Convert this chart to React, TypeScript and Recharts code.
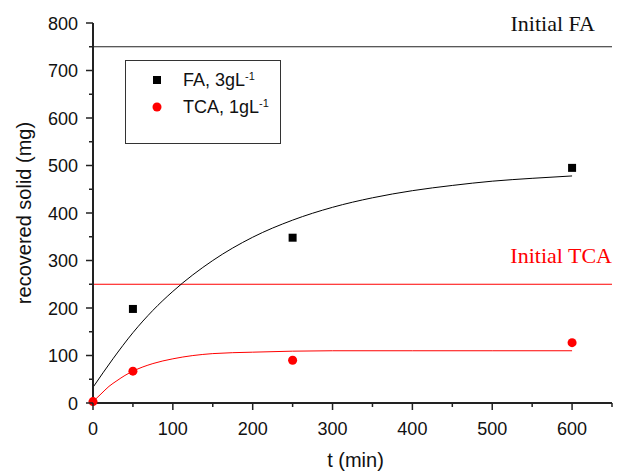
import React from "react";
import { ComposedChart, Scatter, Line, XAxis, YAxis, ReferenceLine, Legend } from "recharts";

// measured points
const faTime = [50, 250, 600];
const faSolid = [198, 348, 495];
const tcaTime = [0, 50, 250, 600];
const tcaSolid = [3, 67, 90, 127];

// fitted curves
const faFitTime = [0, 25, 50, 75, 100, 150, 200, 250, 300, 350, 400, 450, 500, 550, 600];
const faFitSolid = [33, 93, 148, 195, 235, 300, 349, 385, 412, 432, 447, 458, 467, 473, 478];
const tcaFitTime = [0, 10, 20, 30, 40, 50, 75, 100, 150, 200, 300, 400, 500, 600];
const tcaFitSolid = [3, 19, 35, 47, 58, 67, 83, 93, 104, 107, 110, 110, 110, 110];

const initialFA = 750;
const initialTCA = 250;

const xTicks = [0, 50, 100, 150, 200, 250, 300, 350, 400, 450, 500, 550, 600, 650];
const yTicks = [0, 50, 100, 150, 200, 250, 300, 350, 400, 450, 500, 550, 600, 650, 700, 750, 800];

const RED = "#ff0000";
const SANS = "'Liberation Sans', Arial, sans-serif";
const SERIF = "'Liberation Serif', 'Times New Roman', serif";

const zip = (xs: number[], ys: number[]) => xs.map((t, i) => ({ t, solid: ys[i] }));

const faData = zip(faTime, faSolid);
const tcaData = zip(tcaTime, tcaSolid);
const faFit = zip(faFitTime, faFitSolid);
const tcaFit = zip(tcaFitTime, tcaFitSolid);

function XTick({ x, y, payload }: any) {
  const major = payload.value % 100 === 0;
  return (
    <g>
      <line x1={x} x2={x} y1={y} y2={y + (major ? 7 : 4)} stroke="#222" strokeWidth={1.5} />
      {major && (
        <text x={x} y={y + 32} textAnchor="middle" fontSize={18} fontFamily={SANS} fill="#111">
          {payload.value}
        </text>
      )}
    </g>
  );
}

function YTick({ x, y, payload }: any) {
  const major = payload.value % 100 === 0;
  return (
    <g>
      <line x1={x} x2={x - (major ? 7 : 4)} y1={y} y2={y} stroke="#222" strokeWidth={1.5} />
      {major && (
        <text x={x - 15} y={y + 6.5} textAnchor="end" fontSize={18} fontFamily={SANS} fill="#111">
          {payload.value}
        </text>
      )}
    </g>
  );
}

const refLabel = (text: string, color: string, dx: number, dy: number) => ({ viewBox }: any) => (
  <text
    x={viewBox.x + viewBox.width + dx}
    y={viewBox.y + dy}
    textAnchor="end"
    fontSize={22}
    fontFamily={SERIF}
    fill={color}
  >
    {text}
  </text>
);

function LegendBox() {
  const row = (top: number, marker: React.ReactNode, label: string, sup: string) => (
    <div style={{ position: "absolute", left: 0, top, height: 20, width: "100%" }}>
      <svg width={40} height={20} style={{ position: "absolute", left: 21, top: 0 }}>
        {marker}
      </svg>
      <span
        style={{
          position: "absolute",
          left: 57,
          top: 0,
          lineHeight: "20px",
          fontSize: 18,
          fontFamily: SANS,
          color: "#111",
          whiteSpace: "nowrap",
        }}
      >
        {label}
        <sup style={{ fontSize: 11, verticalAlign: "top", lineHeight: "12px" }}>{sup}</sup>
      </span>
    </div>
  );
  return (
    <div
      style={{
        position: "relative",
        width: 156,
        height: 84,
        border: "1px solid #333",
        boxSizing: "border-box",
        background: "#fff",
      }}
    >
      {row(9, <rect x={6} y={6} width={8} height={8} fill="#000" />, "FA, 3gL", "-1")}
      {row(36, <circle cx={10} cy={10} r={4.5} fill={RED} />, "TCA, 1gL", "-1")}
    </div>
  );
}

export default function App() {
  return (
    <div style={{ position: "absolute", left: 0, top: 0, background: "#fff" }}>
      <ComposedChart width={624} height={471} margin={{ top: 23, right: 12, bottom: 8, left: 0 }}>
        <XAxis
          type="number"
          dataKey="t"
          domain={[0, 650]}
          ticks={xTicks}
          interval={0}
          tickSize={0}
          tickMargin={0}
          tickLine={false}
          tick={<XTick />}
          height={60}
          axisLine={{ stroke: "#222", strokeWidth: 2 }}
          allowDuplicatedCategory={false}
          label={({ viewBox }: any) => (
            <text
              x={viewBox.x + viewBox.width / 2 + 3}
              y={467}
              textAnchor="middle"
              fontSize={20}
              fontFamily={SANS}
              fill="#111"
            >
              t (min)
            </text>
          )}
        />
        <YAxis
          type="number"
          domain={[0, 800]}
          ticks={yTicks}
          interval={0}
          width={93}
          tickSize={0}
          tickMargin={0}
          tickLine={false}
          tick={<YTick />}
          axisLine={{ stroke: "#222", strokeWidth: 2 }}
          label={({ viewBox }: any) => {
            const cy = viewBox.y + viewBox.height / 2;
            return (
              <text
                x={31}
                y={cy}
                transform={`rotate(-90, 31, ${cy})`}
                textAnchor="middle"
                fontSize={20}
                fontFamily={SANS}
                fill="#111"
              >
                recovered solid (mg)
              </text>
            );
          }}
        />
        <ReferenceLine y={initialFA} stroke="#222" strokeWidth={1} label={refLabel("Initial FA", "#111", -17, -16)} />
        <ReferenceLine y={initialTCA} stroke={RED} strokeWidth={1} label={refLabel("Initial TCA", RED, 0, -21)} />
        <Line data={faFit} dataKey="solid" type="monotone" stroke="#000" strokeWidth={1} dot={false} legendType="none" isAnimationActive={false} />
        <Line data={tcaFit} dataKey="solid" type="monotone" stroke={RED} strokeWidth={1} dot={false} legendType="none" isAnimationActive={false} />
        <Scatter name="FA" data={faData} dataKey="solid" shape="square" fill="#000" isAnimationActive={false} />
        <Scatter name="TCA" data={tcaData} dataKey="solid" shape="circle" fill={RED} isAnimationActive={false} />
        <Legend
          layout="vertical"
          align="center"
          verticalAlign="middle"
          content={() => <LegendBox />}
          wrapperStyle={{ left: 125, top: 60, width: 156, height: 84 }}
        />
      </ComposedChart>
    </div>
  );
}
